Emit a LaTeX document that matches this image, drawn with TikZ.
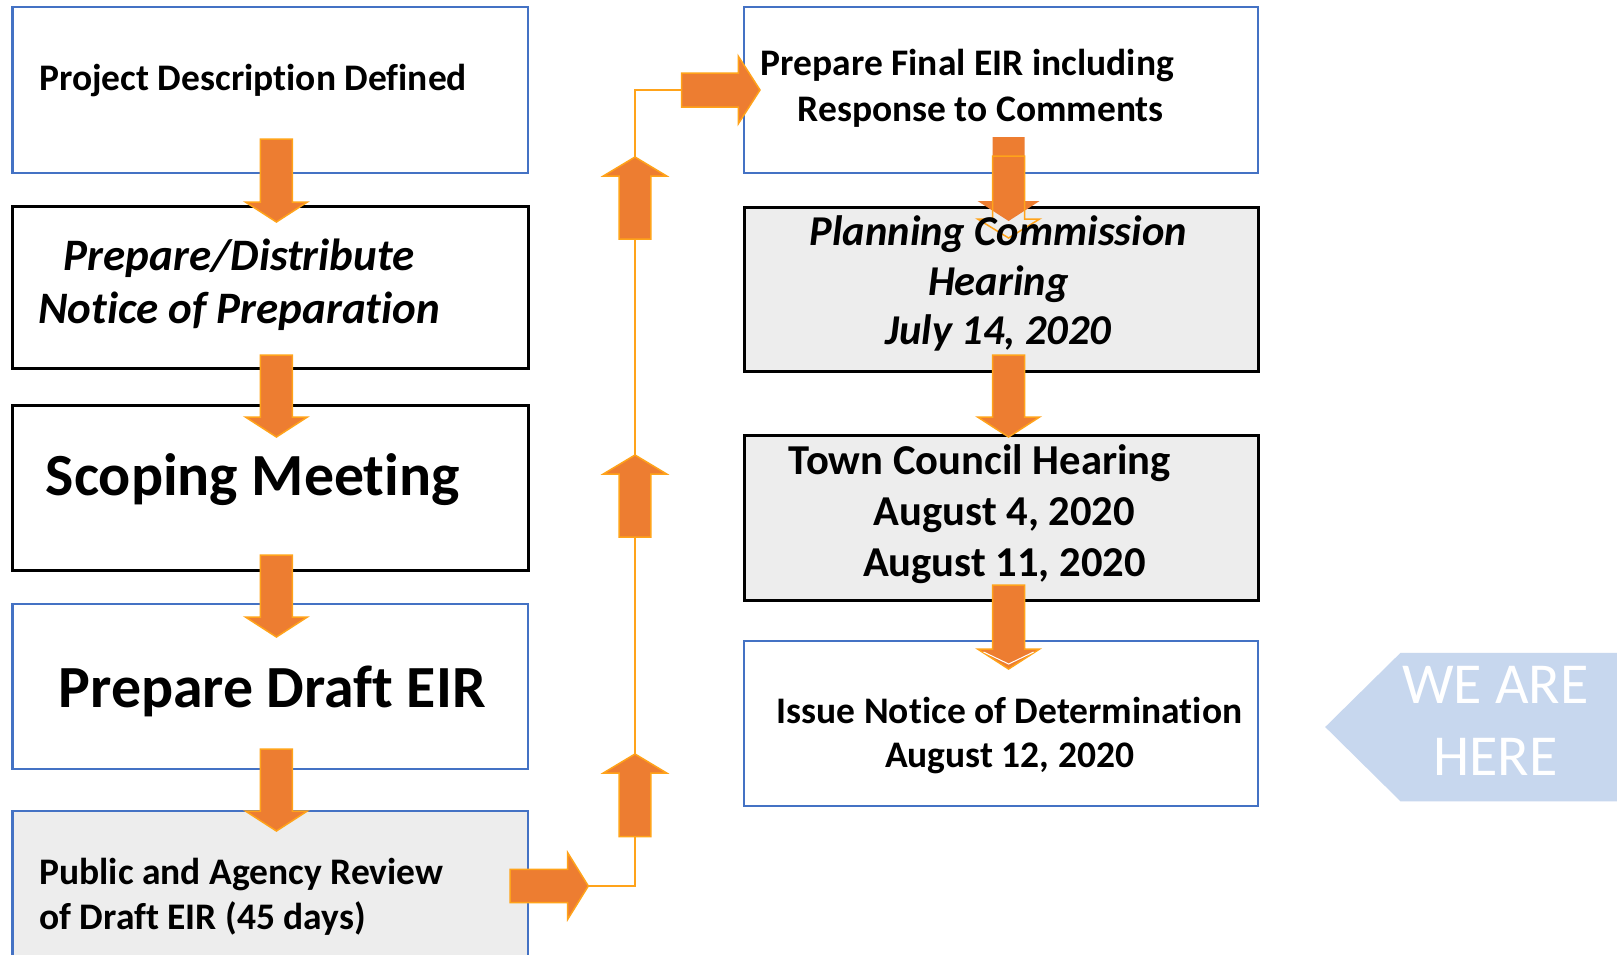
\documentclass[tikz,border=0pt]{standalone}
\usepackage{fontspec}
\setmainfont{Carlito}[Ligatures={NoCommon,NoRare,NoContextual}, Contextuals={NoAlternate}, RawFeature={-liga;-clig;-dlig;-calt}]
\definecolor{boxblue}{HTML}{4472C4}
\definecolor{arrfill}{HTML}{ED7D31}
\definecolor{arrline}{HTML}{FFA31A}
\definecolor{boxgray}{HTML}{EDEDED}
\definecolor{herefill}{HTML}{C7D7EE}
\tikzset{
  bluebox/.style={rectangle, inner sep=0, draw=boxblue, line width=2.2pt},
  blackbox/.style={rectangle, inner sep=0, draw=black, line width=3pt},
  grayfill/.style={fill=boxgray},
  blockarrow/.style={fill=arrfill, draw=arrline, line width=1.5pt, line join=miter},
  outlinearrow/.style={draw=arrline, line width=1.5pt, line join=miter},
  thinlink/.style={draw=arrline, line width=2pt},
  lbl/.style={inner sep=0, anchor=base},
  lblw/.style={inner sep=0, anchor=base west},
}
\newcommand\fsmall{\fontsize{37.5}{45}\selectfont\bfseries}
\newcommand\fmid{\fontsize{42.6}{50}\selectfont\bfseries}
\newcommand\fmidit{\fontsize{42.5}{50}\selectfont\bfseries\itshape}
\newcommand\fnop{\fontsize{45}{53}\selectfont\bfseries\itshape}
\newcommand\fbig{\fontsize{59.8}{70}\selectfont\bfseries}
\newcommand\fhere{\fontsize{58}{70}\selectfont}
% cx, ytop, ybase, ytip
\newcommand\blkdown[4]{\filldraw[blockarrow] (#1-16,#2) -- (#1+16,#2) -- (#1+16,#3) -- (#1+31,#3) -- (#1,#4) -- (#1-31,#3) -- (#1-16,#3) -- cycle;}
% cx, ybottom, ybase, ytip
\newcommand\blkup[4]{\filldraw[blockarrow] (#1-15.8,#2) -- (#1+15.8,#2) -- (#1+15.8,#3) -- (#1+31.7,#3) -- (#1,#4) -- (#1-31.7,#3) -- (#1-15.8,#3) -- cycle;}
% cy, xleft, xbase, xtip, shaft half, head half
\newcommand\blkright[6]{\filldraw[blockarrow] (#2,#1-#5) -- (#3,#1-#5) -- (#3,#1-#6) -- (#4,#1) -- (#3,#1+#6) -- (#3,#1+#5) -- (#2,#1+#5) -- cycle;}
\begin{document}
\begin{tikzpicture}[x=1pt, y=-1pt]
\useasboundingbox (0,0) rectangle (1617,954);
\clip (0,0) rectangle (1617,954);
\fill[white] (0,0) rectangle (1617,954);

% boxes, left column
\node[bluebox, minimum width=515.6pt, minimum height=165.5pt] (b1) at (270.2,89.95) {};
\node[blackbox, minimum width=515.6pt, minimum height=162pt] (b2) at (270.2,287) {};
\node[blackbox, minimum width=515.6pt, minimum height=165pt] (b3) at (270.2,487.5) {};
\node[bluebox, minimum width=515.6pt, minimum height=165pt] (b4) at (270.2,686.5) {};
\node[bluebox, grayfill, minimum width=515.6pt, minimum height=164pt] (b5) at (270.2,893) {};
% boxes, right column
\node[bluebox, minimum width=514pt, minimum height=165.5pt] (b6) at (1001,89.95) {};
\node[blackbox, grayfill, minimum width=514pt, minimum height=164pt] (b7) at (1001,289) {};
\node[blackbox, grayfill, minimum width=514pt, minimum height=165.7pt] (b8) at (1001,517.85) {};
\node[bluebox, minimum width=514pt, minimum height=165pt] (b9) at (1001,723.5) {};

% WE ARE HERE pointer
\fill[herefill] (1325.2,727) -- (1400.5,652.8) -- (1640,652.8) -- (1640,801.3) -- (1400.5,801.3) -- cycle;
\node[lbl, text=white] (here1) at (1495.4,703.3) {\fhere WE ARE};
\node[lbl, text=white] (here2) at (1495.4,775.5) {\fhere HERE};

% thin connector from review to final EIR
\coordinate (rtip) at (588.3,886);
\coordinate (bend) at (635,886);
\coordinate (tstart) at (681.7,90);
\draw[thinlink, line join=miter] (rtip) -- (bend) |- (tstart);

% down arrows, left column
\blkdown{276.4}{139}{202}{222}
\blkdown{276.4}{355}{417}{437}
\blkdown{276.4}{555}{617}{637}
\blkdown{276.4}{749}{811}{831}
% down arrows, right column
\fill[arrfill] (1008.6-16,137) -- (1008.6+16,137) -- (1008.6+16,201) -- (1008.6+31,201) -- (1008.6,221) -- (1008.6-31,201) -- (1008.6-16,201) -- cycle;
\draw[outlinearrow] (1008.6-16,156) -- (1008.6+16,156) -- (1008.6+16,219) -- (1008.6+31,219) -- (1008.6,238) -- (1008.6-31,219) -- (1008.6-16,219) -- cycle;
\blkdown{1008.6}{355}{417}{437}
\blkdown{1008.6}{585}{649}{669}
\draw[white, line width=1pt] (1008.6-25,652) -- (1008.6,664) -- (1008.6+25,652);
% up arrows on the connector
\blkup{635}{239}{176}{157}
\blkup{635}{537}{474}{455}
\blkup{635}{836.5}{773}{754}
% right arrows
\blkright{886}{510}{567.7}{588.3}{16.7}{33.3}
\blkright{90}{681.7}{738.3}{760}{17}{33.8}

% texts
\node[lblw] (t1) at (39.2,90.8) {\fsmall Project Description Defined};
\node[lbl] (t2a) at (239.3,270) {\fnop Prepare/Distribute};
\node[lbl] (t2b) at (239.3,323.8) {\fnop Notice of Preparation};
\node[lbl] (t3) at (252.7,495) {\fbig Scoping Meeting};
\node[lbl] (t4) at (272.3,707.6) {\fbig Prepare Draft EIR};
\node[lblw] (t5a) at (39.2,884.3) {\fsmall Public and Agency Review};
\node[lblw] (t5b) at (39.2,929.7) {\fsmall of Draft EIR (45 days)};
\node[lbl] (t6a) at (967.4,75.8) {\fsmall Prepare Final EIR including};
\node[lbl] (t6b) at (980.8,121.2) {\fsmall Response to Comments};
\node[lbl] (t7a) at (998.3,245.5) {\fmidit Planning Commission};
\node[lbl] (t7b) at (998.3,295) {\fmidit Hearing};
\node[lbl] (t7c) at (998.3,344.5) {\fmidit July 14, 2020};
\node[lbl] (t8a) at (979.7,474.4) {\fmid Town Council Hearing};
\node[lbl] (t8b) at (1004.5,525) {\fmid August 4, 2020};
\node[lbl] (t8c) at (1004.5,576.5) {\fmid August 11, 2020};
\node[lbl] (t9a) at (1009.6,723.4) {\fsmall Issue Notice of Determination};
\node[lbl] (t9b) at (1009.6,767.8) {\fsmall August 12, 2020};
\end{tikzpicture}
\end{document}
